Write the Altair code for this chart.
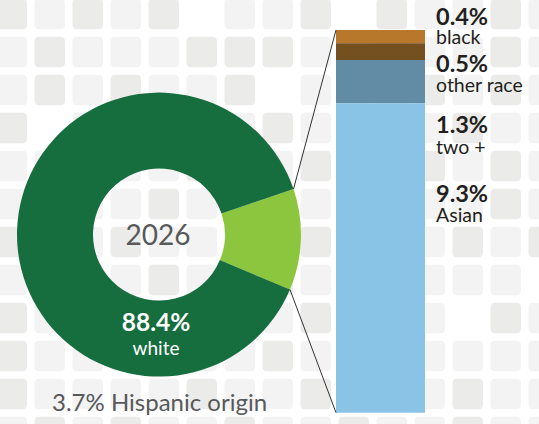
import math
import altair as alt
import pandas as pd

# ---------------- data ----------------
year = "2026"
main_labels = ["white", "other groups"]
main_values = [88.4, 11.5]
sub_labels = ["black", "other race", "two +", "Asian"]
sub_values = [0.4, 0.5, 1.3, 9.3]
hispanic_text = "3.7% Hispanic origin"

# ---------------- layout / style ----------------
W, H = 539, 424
CX, CY = 159, 234.6
R_OUT, R_IN = 142, 66
BAR_X0, BAR_X1 = 336, 425
BAR_TOP, BAR_BOT = 30, 412.7
LABEL_X = 436
PCT_Y = [25, 72, 133, 202]
NAME_Y = [44, 92, 154, 222]
FONT = "Lato"
DARK = "#231f20"
GRAY = "#58595b"

main_colors = ["#166e3f", "#8cc63f"]
sub_colors = ["#b8782c", "#744f1f", "#628ba6", "#89c4e6"]

# background tile pattern: 0 none, 1 light, 2 darker
pattern = [
    [2, 1, 2, 1, 2, 0, 1, 1, 2, 0, 2, 1, 1, 2, 1],
    [1, 2, 1, 1, 1, 2, 2, 2, 1, 1, 2, 1, 1, 2, 1],
    [1, 2, 1, 2, 1, 1, 2, 0, 1, 1, 1, 2, 1, 2, 1],
    [2, 0, 1, 1, 1, 1, 1, 2, 1, 2, 1, 1, 2, 1, 1],
    [1, 1, 2, 1, 1, 2, 1, 1, 2, 1, 1, 2, 1, 2, 1],
    [1, 2, 1, 1, 2, 1, 1, 2, 1, 1, 2, 1, 1, 2, 1],
    [2, 1, 1, 2, 1, 1, 2, 1, 2, 1, 1, 1, 2, 1, 2],
    [1, 2, 1, 1, 2, 1, 1, 2, 1, 1, 2, 1, 1, 1, 0],
    [2, 1, 1, 2, 1, 2, 1, 1, 2, 1, 1, 1, 0, 2, 1],
    [2, 1, 1, 1, 2, 1, 1, 2, 1, 1, 2, 1, 1, 1, 1],
    [2, 1, 1, 1, 1, 2, 1, 1, 2, 1, 1, 1, 2, 1, 1],
    [1, 2, 1, 2, 1, 1, 2, 1, 1, 2, 1, 1, 2, 1, 1],
]
rows = []
for r, line in enumerate(pattern):
    for c, v in enumerate(line):
        if v:
            x0 = -3.5 + 38 * c
            y0 = -1.3 + 38 * r
            rows.append({"x0": x0, "x1": x0 + 30.5, "y0": y0, "y1": y0 + 30.5,
                         "shade": "dark" if v == 2 else "light"})
bg_df = pd.DataFrame(rows)

background = alt.Chart(bg_df).mark_rect(cornerRadius=4).encode(
    x=alt.X("x0:Q", scale=None, axis=None),
    x2="x1:Q",
    y=alt.Y("y0:Q", scale=None, axis=None),
    y2="y1:Q",
    color=alt.Color("shade:N", scale=alt.Scale(domain=["dark", "light"],
                                               range=["#ebebea", "#f3f3f3"]), legend=None),
)

# ---------------- donut ----------------
total = sum(main_values)
a0 = math.radians(71.3)
donut_df = pd.DataFrame({"group": [main_labels[1], main_labels[0]],
                         "value": [main_values[1], main_values[0]],
                         "ord": [0, 1]})
donut = alt.Chart(donut_df).mark_arc(radius=R_OUT, radius2=R_IN, strokeWidth=0).encode(
    theta=alt.Theta("value:Q", stack=True, scale=alt.Scale(range=[a0, a0 + 2 * math.pi])),
    order=alt.Order("ord:Q"),
    color=alt.Color("group:N", scale=alt.Scale(domain=main_labels, range=main_colors), legend=None),
    x=alt.value(CX),
    y=alt.value(CY),
)

# ---------------- stacked bar ----------------
sub_df = pd.DataFrame({"label": sub_labels, "value": sub_values,
                       "ord": list(range(len(sub_labels)))[::-1]})
bar_total = main_values[1]
bar = alt.Chart(sub_df).transform_stack(
    stack="value", groupby=[], as_=["v0", "v1"], sort=[alt.SortField("ord", order="ascending")]
).mark_rect(strokeWidth=0).encode(
    x=alt.value(BAR_X0),
    x2=alt.value(BAR_X1),
    y=alt.Y("v0:Q",
            scale=alt.Scale(domain=[0, bar_total], range=[BAR_BOT, BAR_TOP], nice=False, zero=True),
            axis=None),
    y2="v1:Q",
    color=alt.Color("label:N", scale=alt.Scale(domain=sub_labels, range=sub_colors), legend=None),
)

# ---------------- connector lines ----------------
a1 = a0 + 2 * math.pi * main_values[1] / total
p_up = (CX + R_OUT * math.sin(a0), CY - R_OUT * math.cos(a0))
p_lo = (CX + R_OUT * math.sin(a1), CY - R_OUT * math.cos(a1))
one = pd.DataFrame({"k": [0]})
line_up = alt.Chart(one).mark_rule(color="#333333", strokeWidth=1).encode(
    x=alt.value(BAR_X0), y=alt.value(BAR_TOP), x2=alt.value(p_up[0]), y2=alt.value(p_up[1]))
line_lo = alt.Chart(one).mark_rule(color="#333333", strokeWidth=1).encode(
    x=alt.value(BAR_X0), y=alt.value(BAR_BOT), x2=alt.value(p_lo[0]), y2=alt.value(p_lo[1]))


def label(text, x, y, size, color, weight="normal", align="left"):
    return alt.Chart(pd.DataFrame({"t": [text]})).mark_text(
        font=FONT, fontSize=size, fontWeight=weight, color=color, align=align,
        baseline="alphabetic").encode(text="t:N", x=alt.value(x), y=alt.value(y))


texts = [
    label(year, CX - 1, 245, 28, GRAY, align="center"),
    label(f"{main_values[0]}%", 156, 331, 24.5, "white", weight="bold", align="center"),
    label(main_labels[0], 156, 355, 19, "white", align="center"),
    label(hispanic_text, 52, 411, 24, GRAY),
]
for lab, val, py, ny in zip(sub_labels, sub_values, PCT_Y, NAME_Y):
    texts.append(label(f"{val}%", LABEL_X, py, 23.5, DARK, weight="bold"))
    texts.append(label(lab, LABEL_X, ny, 19.5, DARK))

chart = alt.layer(background, donut, bar, line_up, line_lo, *texts).resolve_scale(
    x="independent", y="independent", color="independent"
).properties(width=W, height=H, padding=0, autosize="none").configure_view(stroke=None)

chart.save("out.html", embed_options={"renderer": "svg", "actions": False})
